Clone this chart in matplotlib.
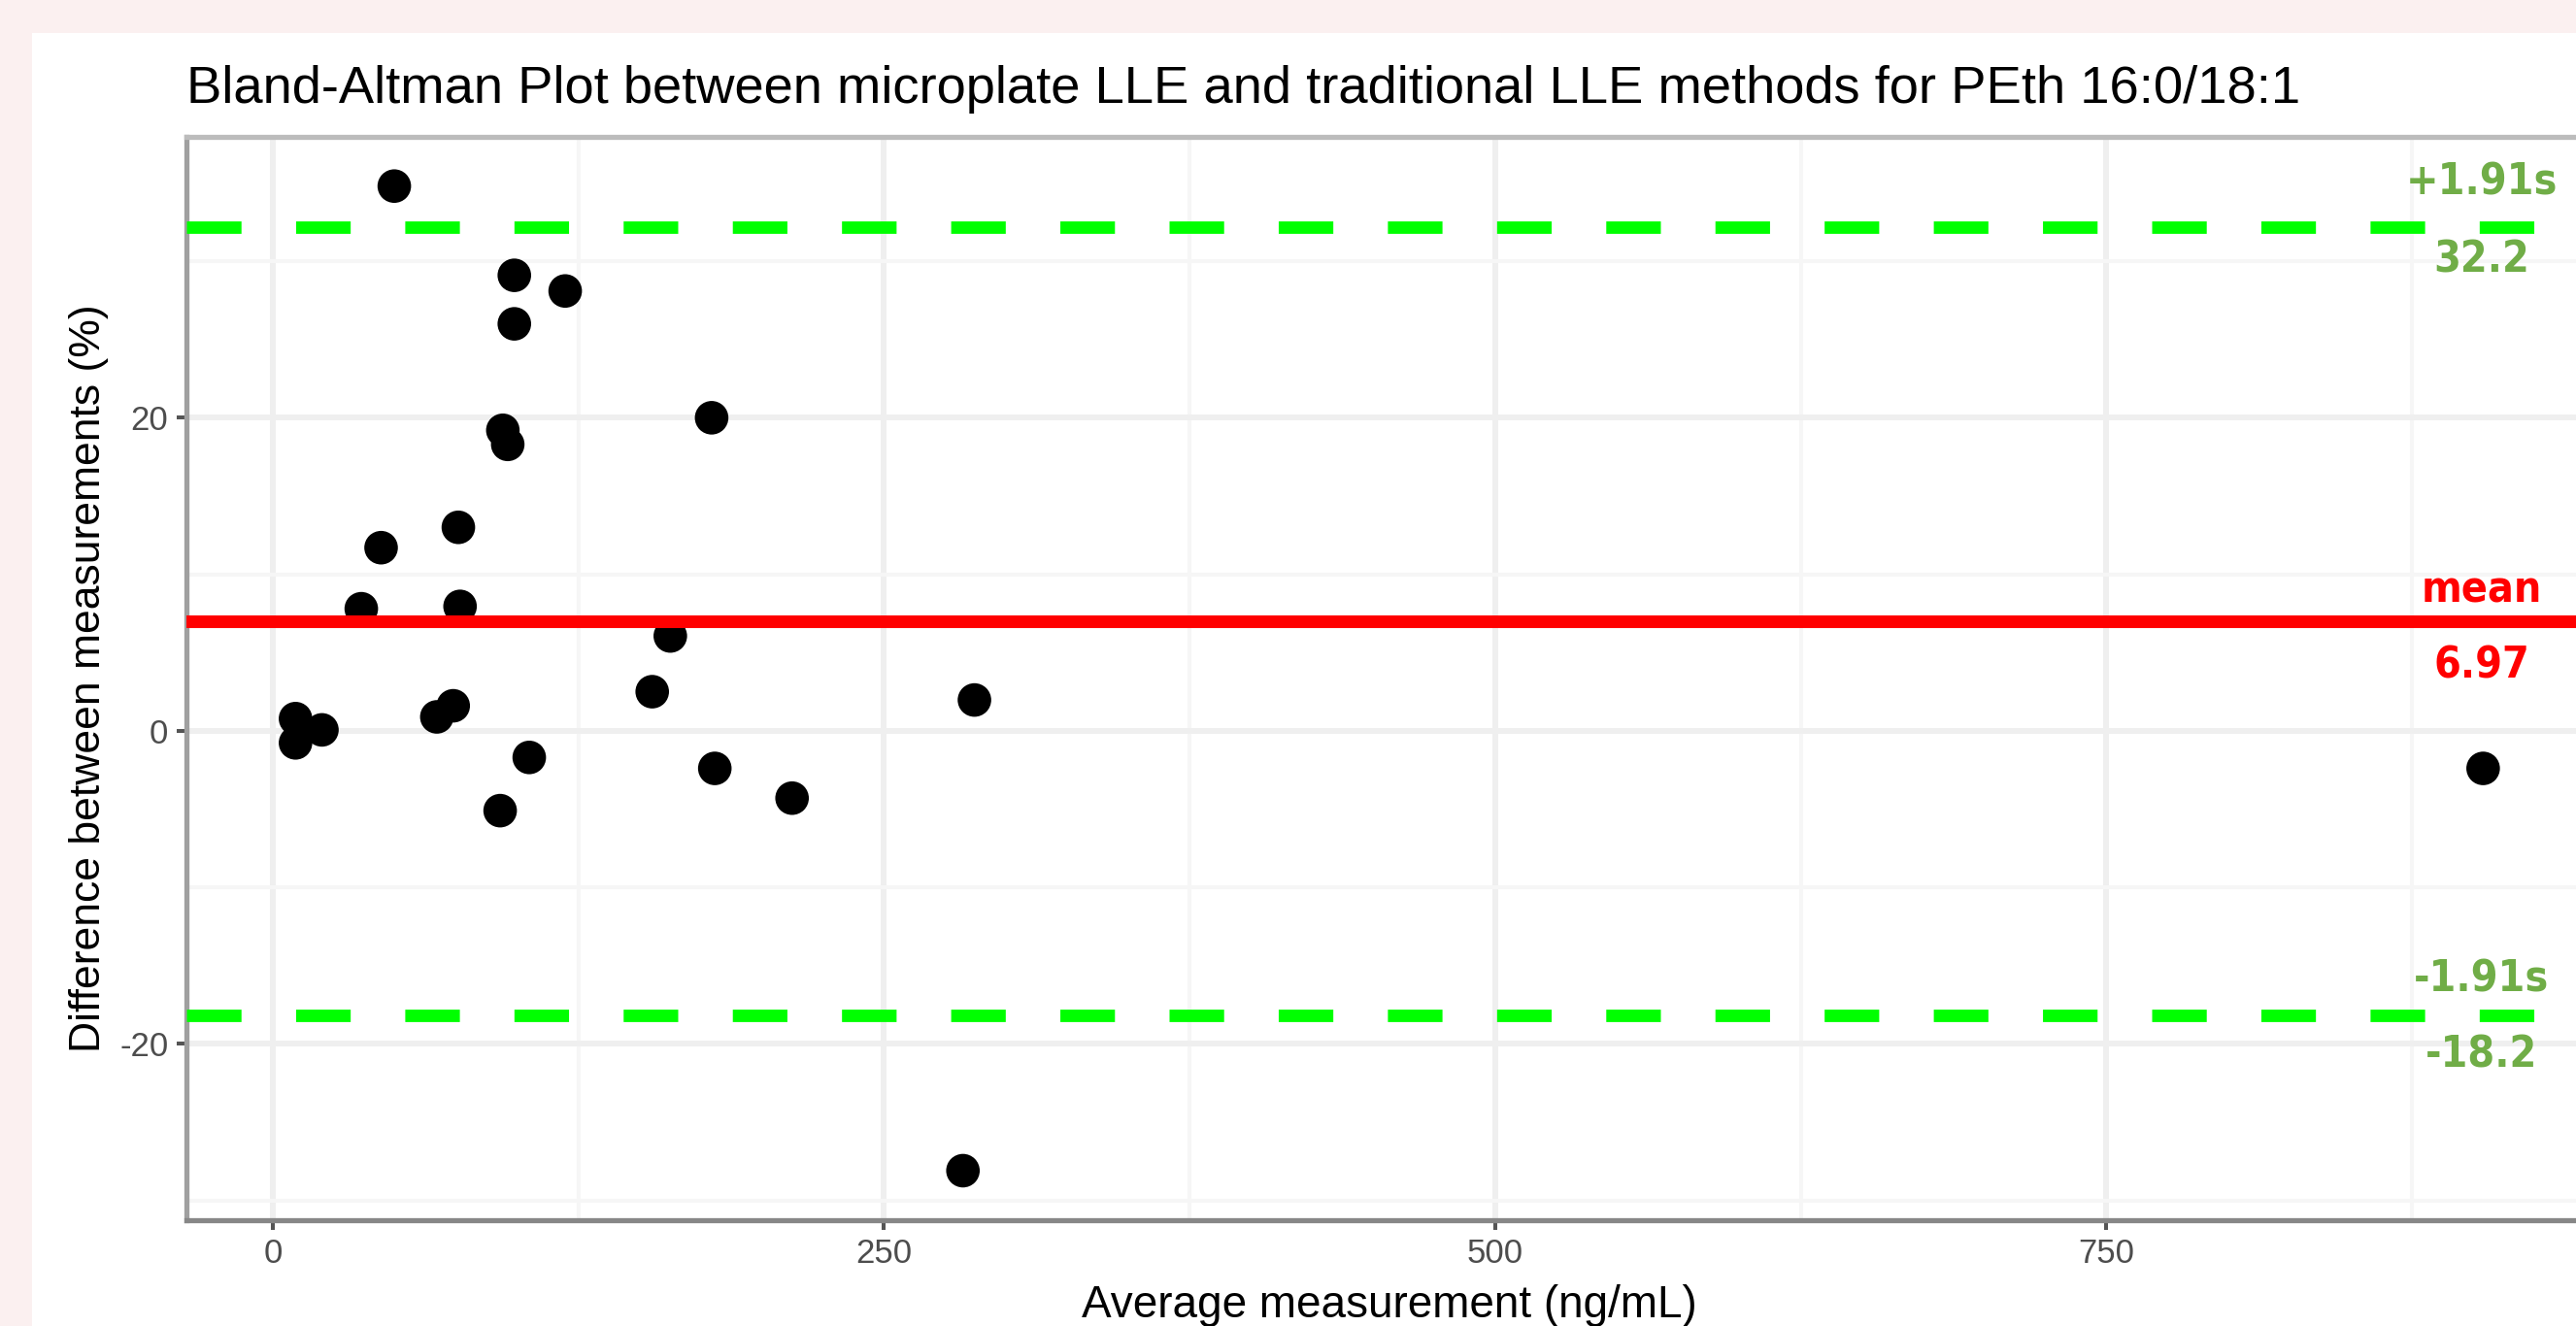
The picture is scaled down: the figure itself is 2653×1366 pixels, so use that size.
import matplotlib
matplotlib.use("Agg")
import matplotlib.pyplot as plt
from matplotlib.patches import Rectangle

plt.rcParams['font.family'] = ['Liberation Sans', 'DejaVu Sans']
plt.rcParams['axes.unicode_minus'] = False

# average of the two methods (ng/mL) and their difference (%)
avg = [49.7, 98.8, 119.6, 98.8, 179.5, 94.1, 96.1, 44.3, 75.9, 36.2, 76.6, 162.6,
       155.2, 287.0, 73.8, 67.1, 9.3, 9.3, 20.1, 104.9, 180.8, 904.1, 212.4, 93.0, 282.3]
diff = [34.8, 29.1, 28.1, 26.0, 20.0, 19.2, 18.3, 11.7, 13.0, 7.8, 7.95, 6.06,
        2.5, 1.97, 1.6, 0.89, 0.78, -0.77, 0.06, -1.7, -2.4, -2.4, -4.3, -5.1, -28.1]

mean_diff = 6.97
upper_loa = 32.2
lower_loa = -18.2

# text shown next to each line: (text, y baseline, colour)
line_labels = ["+1.91s", "32.2", "mean", "6.97", "-1.91s", "-18.2"]
label_y = [34.26, 29.3, 8.22, 3.39, -16.64, -21.48]
label_col = ["#70ad47", "#70ad47", "#ff0000", "#ff0000", "#70ad47", "#70ad47"]

W, H = 2653, 1366
fig = plt.figure(figsize=(W / 100, H / 100), dpi=100)
fig.patch.set_facecolor("#fbf0f0")
fig.patches.append(Rectangle((33 / W, 0), 1, 1 - 34 / H, transform=fig.transFigure,
                             facecolor="white", edgecolor="none", zorder=-1))

ax = fig.add_axes([191.7 / W, (H - 1256.7) / H, (2670 - 191.7) / W, (1256.7 - 141) / H])
ax.set_facecolor("white")

ax.scatter(avg, diff, s=620, color="black", edgecolors="none", zorder=2)
ax.margins(x=0.05, y=0.05)

ax.axhline(upper_loa, color="#00ff00", lw=9.2, dashes=(4.4, 4.4), zorder=3)
ax.axhline(lower_loa, color="#00ff00", lw=9.2, dashes=(4.4, 4.4), zorder=3)
ax.axhline(mean_diff, color="#ff0000", lw=9.4, zorder=3)

for t, y, c in zip(line_labels, label_y, label_col):
    ax.text(0.954, y, t, transform=ax.get_yaxis_transform(), ha="center", va="baseline",
            color=c, fontsize=32, fontweight="bold", family=["DejaVu Sans"],
            fontstretch="condensed", zorder=4)

ax.set_xticks([0, 250, 500, 750])
ax.set_yticks([-20, 0, 20])
ax.set_xticks([125, 375, 625, 875], minor=True)
ax.set_yticks([-30, -10, 10, 30], minor=True)
ax.tick_params(which="major", length=7.2, width=2.9, color="#555555",
               labelcolor="#4d4d4d", labelsize=25, pad=6)
ax.tick_params(which="minor", length=0)
ax.grid(which="major", color="#efefef", lw=4.3)
ax.grid(which="minor", color="#f6f6f6", lw=3)
ax.set_axisbelow(True)

ax.spines["right"].set_visible(False)
ax.spines["left"].set_color("#a0a0a0")
ax.spines["top"].set_color("#bcbcbc")
ax.spines["bottom"].set_color("#878787")
for s in ["left", "top", "bottom"]:
    ax.spines[s].set_linewidth(3.8)

ax.set_title("Bland-Altman Plot between microplate LLE and traditional LLE methods for PEth 16:0/18:1",
             loc="left", fontsize=39.2, pad=25, color="black")
ax.set_xlabel("Average measurement (ng/mL)", fontsize=33, labelpad=11)
ax.set_ylabel("Difference between measurements (%)", fontsize=32, labelpad=8)

fig.savefig("out.png", dpi=100, facecolor=fig.get_facecolor())
